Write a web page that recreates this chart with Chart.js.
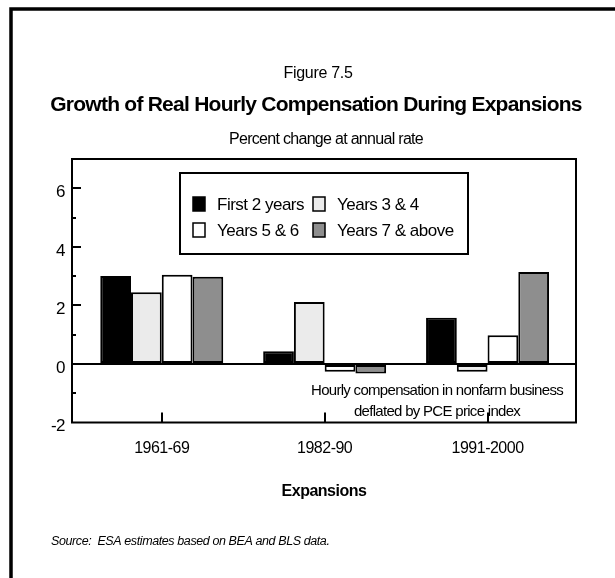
<!DOCTYPE html>
<html>
<head>
<meta charset="utf-8">
<title>Growth of Real Hourly Compensation During Expansions</title>
<script src="https://cdn.jsdelivr.net/npm/chart.js@4.4.1/dist/chart.umd.min.js"></script>
<style>
  html, body { margin: 0; padding: 0; background: #ffffff; }
  #wrap { position: relative; width: 615px; height: 578px; }
</style>
</head>
<body>
<div id="wrap"><canvas id="compChart" width="615" height="578"></canvas></div>
<script>
// ================= DATA =================
const expansions = ["1961-69", "1982-90", "1991-2000"];
const seriesNames = ["First 2 years", "Years 3 & 4", "Years 5 & 6", "Years 7 & above"];
const first2Years = [3.0, 0.43, 1.58];
const years3And4 = [2.45, 2.12, -0.27];
const years5And6 = [3.05, -0.27, 0.98];
const years7Above = [2.98, -0.33, 3.14];

const FONT = "'Liberation Sans', Arial, Helvetica, sans-serif";

// bars sit on a linear x scale so the group centres can be placed freely
const toPoints = (values) => values.map((v, i) => ({ x: i, y: v }));

function drawText(ctx, text, x, y, font, align, spacing) {
  ctx.save();
  ctx.font = font;
  ctx.fillStyle = "#000";
  ctx.textAlign = align;
  ctx.textBaseline = "alphabetic";
  ctx.letterSpacing = spacing + "px";
  ctx.fillText(text, x, y);
  ctx.restore();
}

// ================= PAGE DECORATION =================
const pagePlugin = {
  id: "page",
  beforeDraw(chart) {
    const ctx = chart.ctx;
    ctx.save();
    ctx.fillStyle = "#fff";
    ctx.fillRect(0, 0, chart.width, chart.height);
    ctx.restore();
    // tighter text for the axis labels drawn by the library
    ctx.letterSpacing = "-0.5px";
  },
  afterDatasetsDraw(chart) {
    const ctx = chart.ctx;
    const area = chart.chartArea;
    const xs = chart.scales.x;
    const ys = chart.scales.y;

    // note inside the plot
    drawText(ctx, "Hourly compensation in nonfarm business", 437, 395, "15px " + FONT, "center", -0.7);
    drawText(ctx, "deflated by PCE price index", 437, 416, "15px " + FONT, "center", -0.7);

    ctx.save();
    ctx.strokeStyle = "#000";
    ctx.lineWidth = 2;
    ctx.lineCap = "butt";

    // plot frame
    ctx.strokeRect(area.left, area.top, area.right - area.left, area.bottom - area.top);

    // inward tick marks on the value axis
    ys.ticks.forEach((t) => {
      if (t.value === ys.min || t.value === ys.max) return;
      const y = Math.round(ys.getPixelForValue(t.value));
      const len = t.value % 2 === 0 ? 9 : 4;
      ctx.beginPath();
      ctx.moveTo(area.left, y);
      ctx.lineTo(area.left + len, y);
      ctx.stroke();
    });

    // inward tick marks under each expansion
    xs.ticks.forEach((t) => {
      const x = Math.round(xs.getPixelForValue(t.value));
      ctx.beginPath();
      ctx.moveTo(x, area.bottom);
      ctx.lineTo(x, area.bottom - 10);
      ctx.stroke();
    });
    ctx.restore();
  },
  afterDraw(chart) {
    const ctx = chart.ctx;

    // outer figure border (top and left)
    ctx.save();
    ctx.strokeStyle = "#000";
    ctx.lineWidth = 3.5;
    ctx.lineJoin = "miter";
    ctx.beginPath();
    ctx.moveTo(11, chart.height);
    ctx.lineTo(11, 9);
    ctx.lineTo(chart.width, 9);
    ctx.stroke();
    ctx.restore();

    // headings
    drawText(ctx, "Figure 7.5", 318, 78, "16px " + FONT, "center", -0.3);
    drawText(ctx, "Growth of Real Hourly Compensation During Expansions", 316, 111, "bold 21px " + FONT, "center", -0.75);
    drawText(ctx, "Percent change at annual rate", 326, 144, "16px " + FONT, "center", -0.7);

    // source line
    drawText(ctx, "Source:  ESA estimates based on BEA and BLS data.", 51, 545, "italic 12.5px " + FONT, "left", -0.4);

    // legend box
    const box = { x: 180, y: 173, w: 288, h: 81 };
    ctx.save();
    ctx.strokeStyle = "#000";
    ctx.lineWidth = 2;
    ctx.strokeRect(box.x, box.y, box.w, box.h);
    ctx.restore();

    const cols = [193, 313];
    const rows = [210, 236];
    chart.data.datasets.forEach((ds, i) => {
      const x = cols[i % 2];
      const y = rows[Math.floor(i / 2)];
      ctx.save();
      ctx.fillStyle = ds.backgroundColor;
      ctx.fillRect(x, y - 13, 12, 14);
      ctx.strokeStyle = "#000";
      ctx.lineWidth = 1.5;
      ctx.strokeRect(x, y - 13, 12, 14);
      ctx.restore();
      drawText(ctx, ds.label, x + 24, y, "17px " + FONT, "left", -0.5);
    });
  }
};

// ================= CHART =================
const ctx = document.getElementById("compChart").getContext("2d");

const chart = new Chart(ctx, {
  type: "bar",
  data: {
    datasets: [
      { label: seriesNames[0], data: toPoints(first2Years), backgroundColor: "#000000" },
      { label: seriesNames[1], data: toPoints(years3And4), backgroundColor: "#ebebeb" },
      { label: seriesNames[2], data: toPoints(years5And6), backgroundColor: "#ffffff" },
      { label: seriesNames[3], data: toPoints(years7Above), backgroundColor: "#8e8e8e" }
    ]
  },
  options: {
    responsive: false,
    animation: false,
    events: [],
    layout: { padding: { left: 0, top: 159, right: 39, bottom: 0 } },
    datasets: {
      bar: {
        borderColor: "#000",
        borderWidth: 2,
        borderSkipped: false,
        categoryPercentage: 0.755,
        barPercentage: 1.0
      }
    },
    plugins: {
      legend: { display: false },
      title: { display: false },
      tooltip: { enabled: false }
    },
    scales: {
      x: {
        type: "linear",
        min: -0.551,
        max: 2.543,
        offset: false,
        afterBuildTicks: (scale) => {
          scale.ticks = expansions.map((_, i) => ({ value: i }));
        },
        afterFit: (scale) => { scale.height = 155.5; },
        grid: { display: false, drawTicks: false, offset: false },
        border: { display: false },
        ticks: {
          autoSkip: false,
          maxRotation: 0,
          padding: 16,
          color: "#000",
          font: { family: FONT, size: 16 },
          callback: (v) => expansions[v]
        },
        title: {
          display: true,
          text: "Expansions",
          color: "#000",
          font: { family: FONT, size: 16, weight: "bold" },
          padding: { top: 0, bottom: 77 }
        }
      },
      y: {
        min: -2,
        max: 7,
        afterFit: (scale) => { scale.width = 72; },
        grid: {
          drawTicks: false,
          lineWidth: 2,
          color: (c) => (c.tick && c.tick.value === 0 ? "#000" : "rgba(0,0,0,0)")
        },
        border: { display: false },
        ticks: {
          stepSize: 1,
          padding: 7,
          labelOffset: 4,
          color: "#000",
          font: { family: FONT, size: 17 },
          callback: (v) => (v % 2 === 0 ? String(v) : "")
        }
      }
    }
  },
  plugins: [pagePlugin]
});
</script>
</body>
</html>
